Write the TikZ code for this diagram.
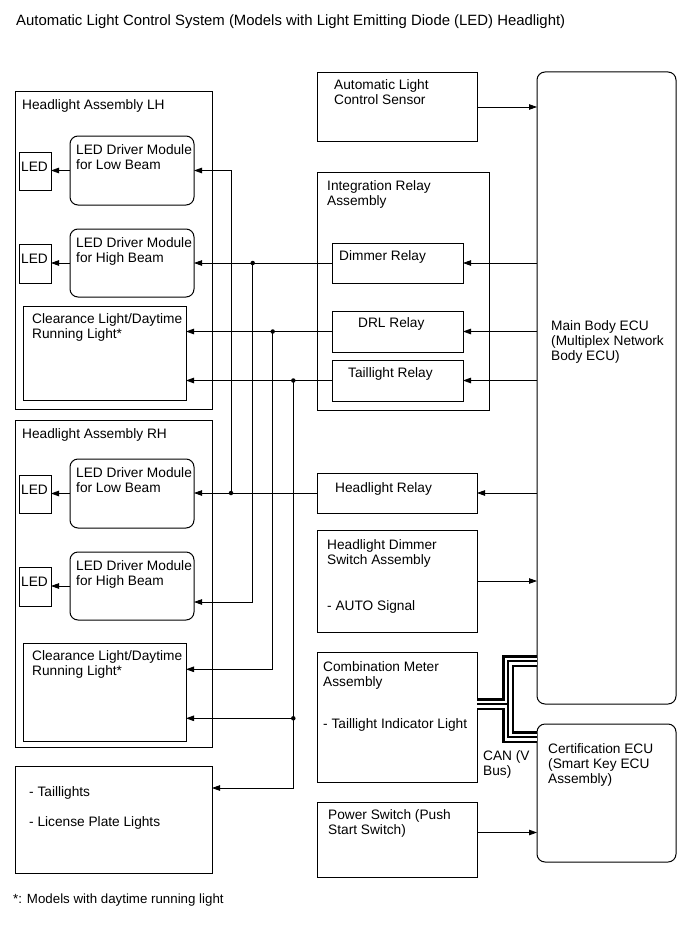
\documentclass[tikz,border=0pt]{standalone}
\usepackage{fontspec}
\setmainfont{Liberation Sans}
\usetikzlibrary{arrows.meta,positioning}

\tikzset{
  blk/.style={draw, line width=1pt, rectangle, anchor=north west, inner sep=0pt, outer sep=0pt},
  modblk/.style={blk, rounded corners=8pt},
  txt/.style={anchor=north west, inner sep=0pt, align=left, font=\fontsize{13.7}{15}\selectfont},
  wire/.style={line width=0.8pt, -{Triangle[length=8pt,width=5.5pt]}},
  jdot/.style={circle, fill, inner sep=0pt, minimum size=4.5pt},
}

\begin{document}
\begin{tikzpicture}[x=1pt, y=-1pt]
  \useasboundingbox (0,0) rectangle (689,950);
  % Title and footnote
  \node[txt, font=\fontsize{14.9}{16}\selectfont] (title) at (16,15) {Automatic Light Control System (Models with Light Emitting Diode (LED) Headlight)};
  \node[txt, font=\fontsize{13.3}{15}\selectfont] (note) at (13,894) {*: Models with daytime running light};

  % Headlight assembly LH
  \node[blk, minimum width=197, minimum height=318] (lhasm) at (15,91) {};
  \node[txt] (lhasmT) at ([shift={(7,8)}]lhasm.north west) {Headlight Assembly LH};
  \node[modblk, minimum width=124, minimum height=69] (lowL) at (70,136) {};
  \node[txt] (lowLT) at ([shift={(6,8)}]lowL.north west) {LED Driver Module\\for Low Beam};
  \node[blk, minimum width=32, minimum height=38] (ledLL) at (19,152) {};
  \node[txt] (ledLLT) at ([shift={(2,10)}]ledLL.north west) {LED};
  \node[modblk, minimum width=124, minimum height=68] (highL) at (70,229) {};
  \node[txt] (highLT) at ([shift={(6,8)}]highL.north west) {LED Driver Module\\for High Beam};
  \node[blk, minimum width=32, minimum height=39] (ledLH) at (19,244) {};
  \node[txt] (ledLHT) at ([shift={(2,10)}]ledLH.north west) {LED};
  \node[blk, minimum width=163, minimum height=94] (clrL) at (23,306) {};
  \node[txt] (clrLT) at ([shift={(9,7)}]clrL.north west) {Clearance Light/Daytime\\Running Light*};

  % Headlight assembly RH
  \node[blk, minimum width=197, minimum height=327] (rhasm) at (15,420) {};
  \node[txt] (rhasmT) at ([shift={(7,8)}]rhasm.north west) {Headlight Assembly RH};
  \node[modblk, minimum width=124, minimum height=69] (lowR) at (70,459) {};
  \node[txt] (lowRT) at ([shift={(6,8)}]lowR.north west) {LED Driver Module\\for Low Beam};
  \node[blk, minimum width=32, minimum height=38] (ledRL) at (19,475) {};
  \node[txt] (ledRLT) at ([shift={(2,10)}]ledRL.north west) {LED};
  \node[modblk, minimum width=124, minimum height=68] (highR) at (70,552) {};
  \node[txt] (highRT) at ([shift={(6,8)}]highR.north west) {LED Driver Module\\for High Beam};
  \node[blk, minimum width=32, minimum height=39] (ledRH) at (19,567) {};
  \node[txt] (ledRHT) at ([shift={(2,10)}]ledRH.north west) {LED};
  \node[blk, minimum width=163, minimum height=98] (clrR) at (23,643) {};
  \node[txt] (clrRT) at ([shift={(9,7)}]clrR.north west) {Clearance Light/Daytime\\Running Light*};

  % Rear lamps
  \node[blk, minimum width=197, minimum height=107] (taillamps) at (15,766) {};
  \node[txt] (taillampsT) at ([shift={(14,20)}]taillamps.north west) {- Taillights\\[15.7pt]- License Plate Lights};

  % Middle column
  \node[blk, minimum width=160, minimum height=69] (sensor) at (317,72.5) {};
  \node[txt] (sensorT) at ([shift={(17,7)}]sensor.north west) {Automatic Light\\Control Sensor};
  \node[blk, minimum width=172, minimum height=238] (intrelay) at (317,172) {};
  \node[txt] (intrelayT) at ([shift={(10,8)}]intrelay.north west) {Integration Relay\\Assembly};
  \node[blk, minimum width=131, minimum height=40] (dimrelay) at (332,243) {};
  \node[txt] (dimrelayT) at ([shift={(7,7)}]dimrelay.north west) {Dimmer Relay};
  \node[blk, minimum width=131, minimum height=41] (drlrelay) at (332,311) {};
  \node[txt] (drlrelayT) at ([shift={(26,6)}]drlrelay.north west) {DRL Relay};
  \node[blk, minimum width=131, minimum height=41] (tailrelay) at (332,360) {};
  \node[txt] (tailrelayT) at ([shift={(16,7)}]tailrelay.north west) {Taillight Relay};
  \node[blk, minimum width=160, minimum height=40] (hlrelay) at (317,473) {};
  \node[txt] (hlrelayT) at ([shift={(18,9)}]hlrelay.north west) {Headlight Relay};
  \node[blk, minimum width=160, minimum height=102] (dimsw) at (317,530) {};
  \node[txt] (dimswT) at ([shift={(10,9)}]dimsw.north west) {Headlight Dimmer\\Switch Assembly\\[31pt]- AUTO Signal};
  \node[blk, minimum width=160, minimum height=130] (meter) at (317,652) {};
  \node[txt] (meterT) at ([shift={(6,9)}]meter.north west) {Combination Meter\\Assembly\\[27.6pt]- Taillight Indicator Light};
  \node[blk, minimum width=160, minimum height=75] (power) at (317,802) {};
  \node[txt] (powerT) at ([shift={(11,7)}]power.north west) {Power Switch (Push\\Start Switch)};
  \node[txt] (canT) at (483,750) {CAN (V\\Bus)};

  % ECUs
  \node[modblk, minimum width=139, minimum height=632] (mainecu) at (537,72) {};
  \node[txt] (mainecuT) at ([shift={(14,248)}]mainecu.north west) {Main Body ECU\\(Multiplex Network\\Body ECU)};
  \node[modblk, minimum width=139, minimum height=138] (certecu) at (537,724) {};
  \node[txt] (certecuT) at ([shift={(11,19)}]certecu.north west) {Certification ECU\\(Smart Key ECU\\Assembly)};

  % Driver modules to LEDs
  \draw[wire] (lowL.west) -- (lowL.west -| ledLL.east);
  \draw[wire] (highL.west) -- (highL.west -| ledLH.east);
  \draw[wire] (lowR.west) -- (lowR.west -| ledRL.east);
  \draw[wire] (highR.west) -- (highR.west -| ledRH.east);

  % Relay outputs
  \coordinate (jHL) at (231,493);
  \coordinate (jDim) at (252.7,263);
  \coordinate (jDRL) at (272.7,331.5);
  \coordinate (jTail) at (293.3,380.5);
  \coordinate (jTail2) at (293.3,718.3);
  \draw[wire] (hlrelay.west) -- (hlrelay.west -| lowR.east);
  \draw[wire] (jHL) |- (lowL.east);
  \draw[wire] (dimrelay.west) -- (dimrelay.west -| highL.east);
  \draw[wire] (jDim) |- ([yshift=-16pt]highR.east);
  \draw[wire] (drlrelay.west) -- (drlrelay.west -| clrL.east);
  \draw[wire] (jDRL) |- ([yshift=-26.3pt]clrR.north east);
  \draw[wire] (tailrelay.west) -- (tailrelay.west -| clrL.east);
  \draw[wire] (jTail) |- ([yshift=-22pt]taillamps.north east);
  \draw[wire] (jTail2) -- (jTail2 -| clrR.east);
  \node[jdot] (dHL) at (jHL) {};
  \node[jdot] (dDim) at (jDim) {};
  \node[jdot] (dDRL) at (jDRL) {};
  \node[jdot] (dTail) at (jTail) {};
  \node[jdot] (dTail2) at (jTail2) {};

  % Main body ECU connections
  \draw[wire] (sensor.east) -- (sensor.east -| mainecu.west);
  \draw[wire] (mainecu.west |- dimrelay.east) -- (dimrelay.east);
  \draw[wire] (mainecu.west |- drlrelay.east) -- (drlrelay.east);
  \draw[wire] (mainecu.west |- tailrelay.east) -- (tailrelay.east);
  \draw[wire] (mainecu.west |- hlrelay.east) -- (hlrelay.east);
  \draw[wire] (dimsw.east) -- (dimsw.east -| mainecu.west);
  \draw[wire] ([yshift=7pt]power.east) -- ([yshift=7pt]power.east -| certecu.west);

  % CAN (V Bus)
  \coordinate (canUp) at (508,661);
  \coordinate (canDn) at (508,737);
  \coordinate (canIn) at (508,704);
  \foreach \w/\c in {12pt/black, 7pt/white, 1.3pt/black} {
    \draw[line width=\w, \c] (mainecu.west |- canUp) -- (canUp) -- (canDn) -- (certecu.west |- canDn);
    \draw[line width=\w, \c] (meter.east |- canIn) -- (canIn);
  }
\end{tikzpicture}
\end{document}
